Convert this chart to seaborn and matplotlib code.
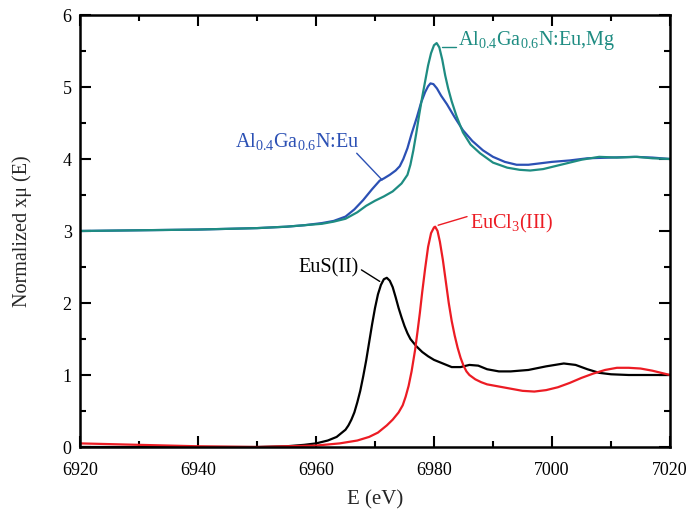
import matplotlib
matplotlib.use("Agg")
import matplotlib.pyplot as plt
import seaborn as sns
import pandas as pd
from matplotlib.ticker import MultipleLocator

# ---- data ----
eus_E = [6920, 6930, 6940, 6950, 6955, 6958, 6960, 6962, 6963.5, 6965, 6965.5, 6966, 6966.5,
         6967, 6967.5, 6968, 6968.5, 6969, 6969.5, 6970, 6970.5, 6971, 6971.5, 6972, 6972.5,
         6973, 6973.5, 6974, 6974.5, 6975, 6975.5, 6976, 6977, 6978, 6979, 6980, 6981.5,
         6983, 6984.5, 6986, 6987.5, 6989, 6991, 6993, 6996, 6999, 7002, 7004, 7006, 7008,
         7010, 7013, 7016, 7020]
eus_mu = [0.0, 0.0, 0.0, 0.0, 0.01, 0.03, 0.05, 0.09, 0.14, 0.24, 0.3, 0.38, 0.48,
          0.62, 0.78, 0.98, 1.2, 1.45, 1.7, 1.93, 2.12, 2.25, 2.33, 2.35, 2.31,
          2.22, 2.08, 1.93, 1.8, 1.68, 1.58, 1.5, 1.4, 1.32, 1.26, 1.21, 1.16,
          1.11, 1.11, 1.14, 1.13, 1.08, 1.05, 1.05, 1.07, 1.12, 1.16, 1.14, 1.08, 1.03,
          1.01, 1.0, 1.0, 1.0]

eucl_E = [6920, 6925, 6930, 6940, 6950, 6955, 6960, 6964, 6967, 6969, 6970.5, 6972, 6973,
          6974, 6974.7, 6975.2, 6975.7, 6976.2, 6976.8, 6977.2, 6977.6, 6978, 6978.5, 6979,
          6979.5, 6980, 6980.2, 6980.6, 6981, 6981.5, 6982, 6982.5, 6983, 6983.5, 6984,
          6984.5, 6985, 6985.5, 6986, 6987, 6988, 6989, 6991, 6993, 6995, 6997, 6999, 7001,
          7003, 7005, 7007, 7009, 7011, 7013, 7015, 7017, 7020]
eucl_mu = [0.05, 0.04, 0.03, 0.01, 0.0, 0.01, 0.02, 0.05, 0.09, 0.14, 0.2, 0.3, 0.38,
           0.48, 0.58, 0.7, 0.85, 1.05, 1.35, 1.6, 1.86, 2.15, 2.48, 2.78,
           2.97, 3.05, 3.06, 3.0, 2.85, 2.6, 2.3, 2.0, 1.75, 1.55, 1.38,
           1.24, 1.13, 1.05, 1.0, 0.94, 0.9, 0.87, 0.84, 0.81, 0.78, 0.77, 0.79, 0.83,
           0.89, 0.96, 1.02, 1.07, 1.1, 1.1, 1.09, 1.06, 1.0]

eu_E = [6920, 6930, 6940, 6950, 6955, 6958, 6961, 6963, 6965, 6966.5, 6968, 6969.5, 6970.8,
        6971.5, 6972.5, 6973.5, 6974.2, 6974.8, 6975.5, 6976.2, 6977.1, 6977.8, 6978.5,
        6979, 6979.4, 6979.9, 6980.5, 6981.2, 6982.2, 6983.5, 6984.9, 6986.5, 6988.3, 6990,
        6992, 6994, 6996, 6998, 7000, 7003, 7006, 7010, 7014, 7017, 7020]
eu_mu = [3.0, 3.01, 3.02, 3.04, 3.06, 3.08, 3.11, 3.14, 3.2, 3.3, 3.43, 3.58, 3.7,
         3.73, 3.78, 3.84, 3.9, 4.0, 4.15, 4.35, 4.58, 4.78, 4.93,
         5.01, 5.05, 5.04, 4.98, 4.88, 4.76, 4.58, 4.4, 4.25, 4.12, 4.03,
         3.96, 3.92, 3.92, 3.94, 3.96, 3.98, 4.01, 4.02, 4.03, 4.02, 4.0]

eumg_E = [6920, 6930, 6940, 6950, 6955, 6958, 6961, 6963, 6965, 6967, 6968.5, 6970, 6971.5,
          6973, 6974.5, 6975.5, 6976, 6976.5, 6977, 6977.5, 6978, 6978.5, 6979, 6979.5, 6980,
          6980.45, 6980.9, 6981.4, 6981.9, 6982.4, 6983, 6983.8, 6984.9, 6986.2, 6987.8, 6990,
          6992.4, 6994.5, 6996.3, 6998.5, 7000.5, 7002.5, 7005, 7008, 7011, 7014.4, 7017, 7020]
eumg_mu = [3.0, 3.01, 3.02, 3.04, 3.06, 3.08, 3.1, 3.13, 3.17, 3.26, 3.35, 3.42, 3.48,
           3.55, 3.66, 3.78, 3.92, 4.12, 4.36, 4.62, 4.86, 5.08, 5.3, 5.47, 5.58,
           5.61, 5.55, 5.38, 5.16, 4.98, 4.8, 4.6, 4.37, 4.2, 4.08, 3.95,
           3.88, 3.85, 3.84, 3.86, 3.9, 3.94, 3.99, 4.03, 4.02, 4.03, 4.01, 4.0]

x_ticks = [6920, 6940, 6960, 6980, 7000, 7020]
y_ticks = [0, 1, 2, 3, 4, 5, 6]

# ---- styling ----
sns.set_theme(style="ticks")
plt.rcParams["font.family"] = ["Liberation Serif", "DejaVu Serif"]
plt.rcParams["mathtext.fontset"] = "custom"
plt.rcParams["mathtext.rm"] = "Liberation Serif"
plt.rcParams["mathtext.it"] = "Liberation Serif:italic"

fig = plt.figure(figsize=(6.91, 5.14), dpi=100)
ax = fig.add_axes([80/691, 1-447/514, 590/691, 432/514])

c_eu = "#2b50b4"
c_mg = "#1e8c82"
c_red = "#ec1c24"

series = [
    (eus_E, eus_mu, "black"),
    (eucl_E, eucl_mu, c_red),
    (eu_E, eu_mu, c_eu),
    (eumg_E, eumg_mu, c_mg),
]
for E, mu, col in series:
    df = pd.DataFrame({"E": E, "mu": mu})
    sns.lineplot(data=df, x="E", y="mu", ax=ax, color=col, linewidth=1.6,
                 sort=False, estimator=None)

ax.set_xlim(6920, 7020)
ax.set_ylim(0, 6)
ax.set_xticks(x_ticks)
ax.set_yticks(y_ticks)
ax.xaxis.set_minor_locator(MultipleLocator(10))
ax.yaxis.set_minor_locator(MultipleLocator(0.5))
ax.tick_params(which="both", direction="in", top=True, right=True, width=1.5,
               labelsize=13, colors="black")
ax.tick_params(which="major", length=8)
ax.tick_params(axis="y", which="major", pad=6)
ax.tick_params(axis="x", which="major", pad=11)
ax.tick_params(which="minor", length=4.5)
for s in ax.spines.values():
    s.set_linewidth(1.8)
    s.set_color("black")

ax.set_xlabel("E (eV)", fontsize=15, labelpad=8)
ax.set_ylabel("Normalized x\u03bc (E)", fontsize=14.5, labelpad=22)

fs = 14.5
ax.text(6946.2, 4.17, r"Al$_\mathregular{0.4}$Ga$_\mathregular{0.6}$N:Eu", color=c_eu,
        fontsize=fs, va="baseline")
ax.plot([6966.9, 6971.2], [4.08, 3.71], color=c_eu, lw=1)
ax.text(6984.0, 5.58, r"Al$_\mathregular{0.4}$Ga$_\mathregular{0.6}$N:Eu,Mg", color=c_mg,
        fontsize=fs, va="baseline")
ax.plot([6981.4, 6983.8], [5.55, 5.55], color=c_mg, lw=1)
ax.text(6986.1, 3.04, r"EuCl$_\mathregular{3}$(III)", color=c_red, fontsize=fs, va="baseline")
ax.plot([6980.7, 6985.6], [3.08, 3.2], color=c_red, lw=1)
ax.text(6967.2, 2.43, "EuS(II)", color="black", fontsize=fs, va="baseline", ha="right")
ax.plot([6967.7, 6970.8], [2.46, 2.30], color="black", lw=1)

fig.savefig("out.png", dpi=100)
